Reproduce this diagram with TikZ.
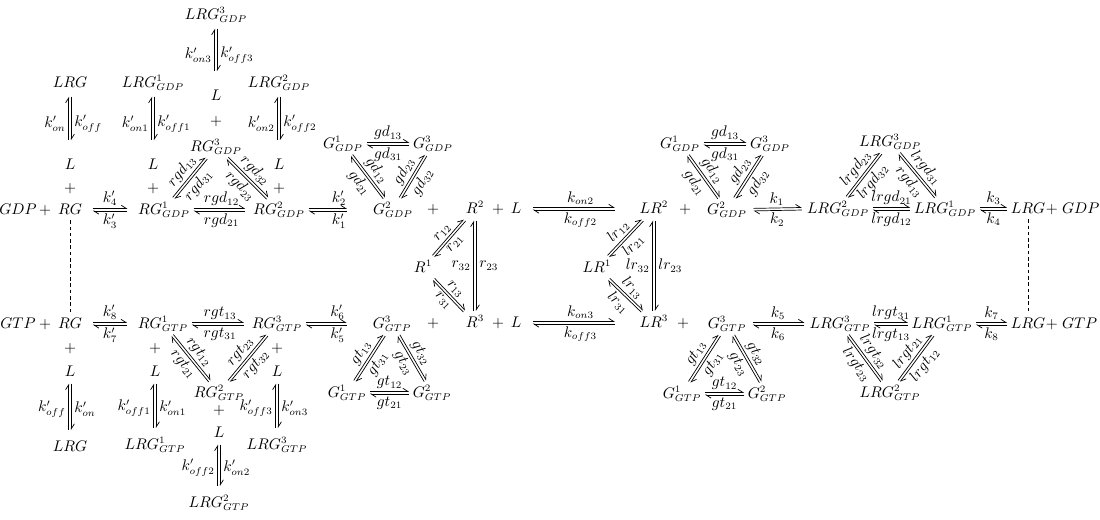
\documentclass[tikz,border=0pt]{standalone}
\usepackage{tikz}
\usetikzlibrary{arrows.meta,calc}
\DeclareMathSizes{11}{11}{7}{5}

\tikzset{
  sp/.style={anchor=base, inner sep=1.5pt, text height=8.8pt, text depth=2.7pt},
  harp/.style={line width=0.5pt, -{Straight Barb[left,length=3.5pt,width=4.5pt]}},
  fl/.style={sloped, above, inner sep=1.6pt},
  bl/.style={sloped, below, inner sep=1.6pt},
  vert/.style={fl/.style={auto, inner sep=2pt}, bl/.style={auto, inner sep=2pt}},
  sa/.store in=\sa, sb/.store in=\sb,
  bindT/.style={vert, sa=10pt, sb=2.5pt},
  bindB/.style={vert, sa=1pt, sb=4.5pt},
  dsh/.style={line width=0.5pt, dash pattern=on 2.5pt off 2pt},
}
\newcommand\hgap{0.9pt}
\newcommand\rxn[5][]{%
  \pgfmathanglebetweenpoints{\pgfpointanchor{#2}{center}}{\pgfpointanchor{#3}{center}}%
  \let\anga\pgfmathresult
  \pgfmathsetmacro\angb{\anga+180}%
  \begin{scope}[sa=1pt, sb=1pt, #1]
    \draw[harp, shorten <=\sa, shorten >=\sb] ($(#2.\anga)!\hgap!90:(#3.\angb)$) -- node[fl] {$#4$} ($(#3.\angb)!\hgap!-90:(#2.\anga)$);
    \draw[harp, shorten <=\sb, shorten >=\sa] ($(#3.\angb)!\hgap!90:(#2.\anga)$) -- node[bl] {$#5$} ($(#2.\anga)!\hgap!-90:(#3.\angb)$);
  \end{scope}}

\begin{document}
\begin{tikzpicture}[x=0.25mm, y=-0.25mm, font=\fontsize{11}{13}\selectfont]
\useasboundingbox (0,0) rectangle (1100,519);

\node[sp] (gdpA) at (18,214) {$GDP$};
\node[sp] (plA) at (45,214) {$+$};
\node[sp] (rgA) at (70,214) {$RG$};
\node[sp] (plB) at (70,192) {$+$};
\node[sp] (lA) at (70,169) {$L$};
\node[sp] (lrgA) at (70,87) {$LRG$};
\node[sp] (rgd1) at (164,214) {$RG^1_{GDP}$};
\node[sp] (plC) at (153,192) {$+$};
\node[sp] (lB) at (153,169) {$L$};
\node[sp] (lrgdA1) at (153,87) {$LRG^1_{GDP}$};
\node[sp] (rgd2) at (279,214) {$RG^2_{GDP}$};
\node[sp] (plD) at (279,192) {$+$};
\node[sp] (lC) at (279,169) {$L$};
\node[sp] (lrgdA2) at (279,87) {$LRG^2_{GDP}$};
\node[sp] (rgd3) at (216,151) {$RG^3_{GDP}$};
\node[sp] (plE) at (216,125) {$+$};
\node[sp] (lD) at (216,100) {$L$};
\node[sp] (lrgdA3) at (216,19) {$LRG^3_{GDP}$};

\node[sp] (gtpA) at (18,328) {$GTP$};
\node[sp] (plF) at (45,328) {$+$};
\node[sp] (rgB) at (70,328) {$RG$};
\node[sp] (plG) at (70,352) {$+$};
\node[sp] (lE) at (70,376) {$L$};
\node[sp] (lrgB) at (70,451) {$LRG$};
\node[sp] (rgt1) at (163,328) {$RG^1_{GTP}$};
\node[sp] (plH) at (155,352) {$+$};
\node[sp] (lF) at (155,376) {$L$};
\node[sp] (lrgtA1) at (155,449) {$LRG^1_{GTP}$};
\node[sp] (rgt3) at (277,328) {$RG^3_{GTP}$};
\node[sp] (plI) at (277,352) {$+$};
\node[sp] (lG) at (277,376) {$L$};
\node[sp] (lrgtA3) at (277,449) {$LRG^3_{GTP}$};
\node[sp] (rgt2) at (219,397) {$RG^2_{GTP}$};
\node[sp] (plJ) at (219,414) {$+$};
\node[sp] (lH) at (219,437) {$L$};
\node[sp] (lrgtA2) at (219,507) {$LRG^2_{GTP}$};

\node[sp] (gd1) at (343,148) {$G^1_{GDP}$};
\node[sp] (gd3) at (433,148) {$G^3_{GDP}$};
\node[sp] (gd2) at (393,214) {$G^2_{GDP}$};
\node[sp] (plM1) at (433,213) {$+$};
\node[sp] (r2) at (475,213) {$R^2$};
\node[sp] (plM2) at (498,213) {$+$};
\node[sp] (lM2) at (516,213) {$L$};
\node[sp] (r1) at (423,272) {$R^1$};
\node[sp] (r3) at (475,327) {$R^3$};
\node[sp] (plM3) at (498,327) {$+$};
\node[sp] (lM3) at (516,327) {$L$};
\node[sp] (gt3) at (392,328) {$G^3_{GTP}$};
\node[sp] (plM4) at (433,327) {$+$};
\node[sp] (gt1) at (347,397) {$G^1_{GTP}$};
\node[sp] (gt2) at (432,397) {$G^2_{GTP}$};

\node[sp] (lr2) at (654,213) {$LR^2$};
\node[sp] (plR1) at (685,213) {$+$};
\node[sp] (gdB2) at (727,214) {$G^2_{GDP}$};
\node[sp] (gdB1) at (680,148) {$G^1_{GDP}$};
\node[sp] (gdB3) at (770,148) {$G^3_{GDP}$};
\node[sp] (lr1) at (597,272) {$LR^1$};
\node[sp] (lr3) at (654,327) {$LR^3$};
\node[sp] (plR2) at (683,327) {$+$};
\node[sp] (gtB3) at (727,328) {$G^3_{GTP}$};
\node[sp] (gtB1) at (682,398) {$G^1_{GTP}$};
\node[sp] (gtB2) at (767,398) {$G^2_{GTP}$};

\node[sp] (lrgd2) at (838,213) {$LRG^2_{GDP}$};
\node[sp] (lrgd1) at (945,213) {$LRG^1_{GDP}$};
\node[sp] (lrgd3) at (890,146) {$LRG^3_{GDP}$};
\node[sp] (lrgC) at (1028,213) {$LRG$};
\node[anchor=base west, inner sep=0pt] (gdpC) at ([xshift=-1.5pt]lrgC.base east) {$+\;GDP$};
\node[sp] (lrgt3) at (840,328) {$LRG^3_{GTP}$};
\node[sp] (lrgt1) at (942,328) {$LRG^1_{GTP}$};
\node[sp] (lrgt2) at (890,397) {$LRG^2_{GTP}$};
\node[sp] (lrgE) at (1028,328) {$LRG$};
\node[anchor=base west, inner sep=0pt] (gtpE) at ([xshift=-1.5pt]lrgE.base east) {$+\;GTP$};

\rxn[bindT]{lA}{lrgA}{k'_{on}}{k'_{off}}
\rxn[bindT]{lB}{lrgdA1}{k'_{on1}}{k'_{off1}}
\rxn[bindT]{lC}{lrgdA2}{k'_{on2}}{k'_{off2}}
\rxn[bindT]{lD}{lrgdA3}{k'_{on3}}{k'_{off3}}
\rxn[sa=6pt, sb=6pt]{rgA}{rgd1}{k'_4}{k'_3}
\rxn[sb=4pt]{rgd1}{rgd2}{rgd_{12}}{rgd_{21}}
\rxn{rgd1}{rgd3}{rgd_{13}}{rgd_{31}}
\rxn{rgd3}{rgd2}{rgd_{32}}{rgd_{23}}
\rxn[sb=17pt]{rgd2}{gd2}{k'_2}{k'_1}

\rxn[bindB]{lE}{lrgB}{k'_{on}}{k'_{off}}
\rxn[bindB]{lF}{lrgtA1}{k'_{on1}}{k'_{off1}}
\rxn[bindB]{lG}{lrgtA3}{k'_{on3}}{k'_{off3}}
\rxn[bindB]{lH}{lrgtA2}{k'_{on2}}{k'_{off2}}
\rxn[sa=6pt, sb=6pt]{rgB}{rgt1}{k'_8}{k'_7}
\rxn[sb=4pt]{rgt1}{rgt3}{rgt_{13}}{rgt_{31}}
\rxn{rgt1}{rgt2}{rgt_{12}}{rgt_{21}}
\rxn{rgt2}{rgt3}{rgt_{23}}{rgt_{32}}
\rxn[sb=17pt]{rgt3}{gt3}{k'_6}{k'_5}

\rxn{gd1}{gd3}{gd_{13}}{gd_{31}}
\rxn{gd1}{gd2}{gd_{12}}{gd_{21}}
\rxn{gd2}{gd3}{gd_{23}}{gd_{32}}
\rxn{gt1}{gt3}{gt_{13}}{gt_{31}}
\rxn{gt3}{gt2}{gt_{32}}{gt_{23}}
\rxn{gt1}{gt2}{gt_{12}}{gt_{21}}

\rxn{r1}{r2}{r_{12}}{r_{21}}
\rxn{r1}{r3}{r_{13}}{r_{31}}
\rxn[vert]{r3}{r2}{r_{32}}{r_{23}}
\rxn[sa=6.5pt, sb=16pt]{lM2}{lr2}{k_{on2}}{k_{off2}}
\rxn[sa=6.5pt, sb=16pt]{lM3}{lr3}{k_{on3}}{k_{off3}}
\rxn{lr1}{lr2}{lr_{12}}{lr_{21}}
\rxn{lr1}{lr3}{lr_{13}}{lr_{31}}
\rxn[vert]{lr3}{lr2}{lr_{32}}{lr_{23}}

\rxn{gdB1}{gdB3}{gd_{13}}{gd_{31}}
\rxn{gdB1}{gdB2}{gd_{12}}{gd_{21}}
\rxn{gdB2}{gdB3}{gd_{23}}{gd_{32}}
\rxn{gtB1}{gtB3}{gt_{13}}{gt_{31}}
\rxn{gtB3}{gtB2}{gt_{32}}{gt_{23}}
\rxn{gtB1}{gtB2}{gt_{12}}{gt_{21}}

\rxn[sa=3pt, sb=2pt]{gdB2}{lrgd2}{k_1}{k_2}
\rxn{lrgd2}{lrgd1}{lrgd_{21}}{lrgd_{12}}
\rxn{lrgd2}{lrgd3}{lrgd_{23}}{lrgd_{32}}
\rxn{lrgd3}{lrgd1}{lrgd_{31}}{rgd_{13}}
\rxn{lrgd1}{lrgC}{k_3}{k_4}
\rxn[sa=3pt, sb=2pt]{gtB3}{lrgt3}{k_5}{k_6}
\rxn{lrgt3}{lrgt1}{lrgt_{31}}{lrgt_{13}}
\rxn{lrgt3}{lrgt2}{lrgt_{32}}{lrgt_{23}}
\rxn{lrgt2}{lrgt1}{lrgt_{21}}{lrgt_{12}}
\rxn{lrgt1}{lrgE}{k_7}{k_8}

\draw[dsh] (rgA) -- (rgB);
\draw[dsh] (lrgC) -- (lrgE);
\end{tikzpicture}
\end{document}
